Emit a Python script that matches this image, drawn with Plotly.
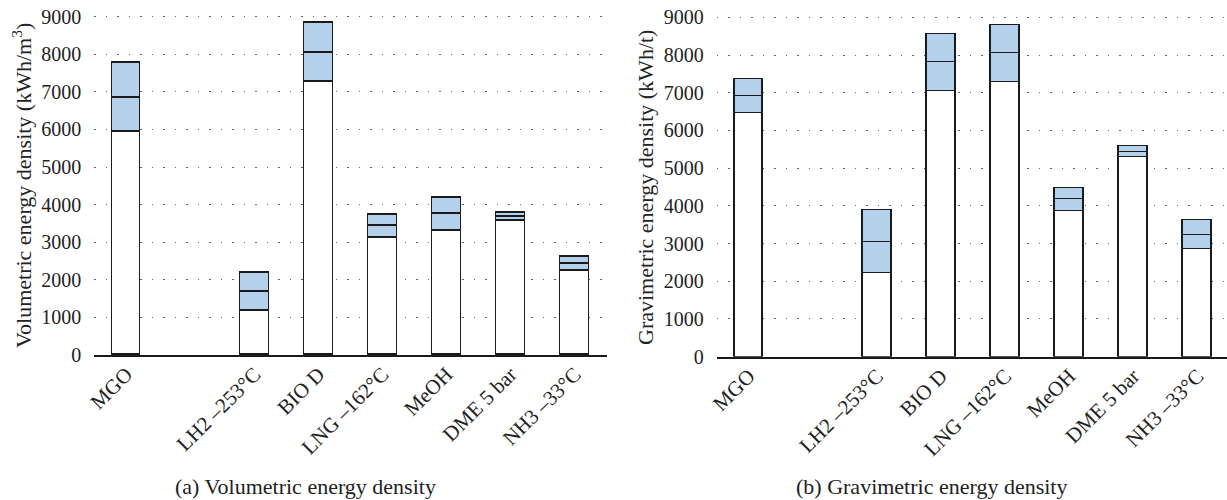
import plotly.graph_objects as go

# Categories (slot 1 is an empty gap)
slots = [0, 2, 3, 4, 5, 6, 7]
labels = ["MGO", "LH2 \u2013253\u00b0C", "BIO D", "LNG \u2013162\u00b0C", "MeOH", "DME 5 bar", "NH3 \u201333\u00b0C"]

# Volumetric energy density (kWh/m3): min, mean, max
vol_min = [5940, 1190, 7270, 3130, 3320, 3580, 2240]
vol_mean = [6850, 1700, 8050, 3440, 3770, 3680, 2440]
vol_max = [7780, 2190, 8850, 3740, 4190, 3800, 2610]

# Gravimetric energy density (kWh/t): min, mean, max
grav_min = [6470, 2210, 7040, 7290, 3860, 5290, 2850]
grav_mean = [6920, 3050, 7810, 8040, 4180, 5430, 3230]
grav_max = [7370, 3890, 8560, 8780, 4480, 5590, 3610]

yticks = [0, 1000, 2000, 3000, 4000, 5000, 6000, 7000, 8000, 9000]

FONT = "Liberation Serif"
BLUE = "#b5d0eb"
EDGE = "#1a1a1a"

W, H = 1227, 500

def px(xr):
    return xr / W

def py(yr):
    return 1 - yr / H

fig = go.Figure()

def add_stack(mn, mean, mx, xa, ya):
    lo = mn
    mid = [m - a for m, a in zip(mean, mn)]
    hi = [b - m for b, m in zip(mx, mean)]
    for vals, col in [(lo, "white"), (mid, BLUE), (hi, BLUE)]:
        fig.add_trace(go.Bar(
            x=slots, y=vals, width=0.45, xaxis=xa, yaxis=ya,
            marker=dict(color=col, line=dict(color=EDGE, width=1.5)),
            showlegend=False, hoverinfo="skip"))

add_stack(vol_min, vol_mean, vol_max, "x", "y")
add_stack(grav_min, grav_mean, grav_max, "x2", "y2")

xcommon = dict(tickvals=slots, ticktext=labels, tickangle=-45, showgrid=False,
               showline=True, linecolor=EDGE, linewidth=1.5, zeroline=False,
               ticks="", automargin=False, ticklabelstandoff=-3,
               tickfont=dict(family=FONT, size=21, color="#222"))
ycommon = dict(range=[0, 9030], tickvals=yticks, showgrid=True, gridcolor="#666",
               gridwidth=1.4, griddash="1.5px,10px", zeroline=False, showline=False,
               ticks="", ticklabelstandoff=12, automargin=False,
               ticklabeloverflow="allow",
               tickfont=dict(family=FONT, size=20, color="#222"))

# domain tops extended by 30/9000 of the 0-9000 span so 9000 sits at the reference pixel
def dom(bottom, top9000):
    span = bottom - top9000
    top = top9000 - span * 30 / 9000
    return [py(bottom), py(top)]

fig.update_layout(
    width=W, height=H,
    margin=dict(l=0, r=0, t=0, b=0, autoexpand=False),
    paper_bgcolor="white", plot_bgcolor="white",
    barmode="stack", bargap=0,
    xaxis=dict(domain=[px(94.3), px(606.7)], range=[-0.5, 7.5], anchor="y", **xcommon),
    yaxis=dict(domain=dom(355, 16.7), anchor="x", **ycommon),
    xaxis2=dict(domain=[px(716.7), 1.0], range=[-0.5, 7.46], anchor="y2", **xcommon),
    yaxis2=dict(domain=dom(356.7, 17.3), anchor="x2", **ycommon),
)

ann_font = dict(family=FONT, size=22, color="#222")
fig.add_annotation(text="Volumetric energy density (kWh/m<sup>3</sup>)", textangle=-90,
                   x=px(22), y=py(186), xref="paper", yref="paper",
                   xanchor="center", yanchor="middle", showarrow=False, font=ann_font)
fig.add_annotation(text="Gravimetric energy density (kWh/t)", textangle=-90,
                   x=px(645), y=py(188), xref="paper", yref="paper",
                   xanchor="center", yanchor="middle", showarrow=False, font=ann_font)
fig.add_annotation(text="(a) Volumetric energy density",
                   x=px(305), y=py(486), xref="paper", yref="paper",
                   xanchor="center", yanchor="middle", showarrow=False, font=ann_font)
fig.add_annotation(text="(b) Gravimetric energy density",
                   x=px(931), y=py(486), xref="paper", yref="paper",
                   xanchor="center", yanchor="middle", showarrow=False, font=ann_font)

fig.write_html("out.html", config={"displayModeBar": False},
               post_script="document.body.style.margin='0';")
